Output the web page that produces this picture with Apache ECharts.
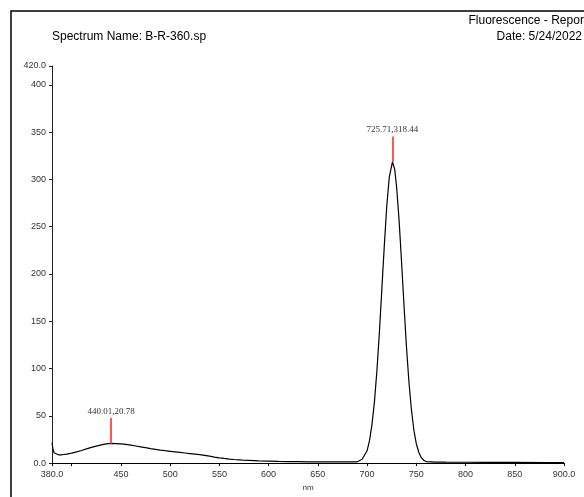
<!DOCTYPE html>
<html>
<head>
    <meta charset="utf-8">
    <script src="https://cdn.jsdelivr.net/npm/echarts@6/dist/echarts.min.js"></script>
</head>
<body style="margin:0">
    <div id="main" style="width: 584px;height:497px;"></div>
    <script type="text/javascript">
        // spectrum (nm, intensity)
        var wavelength = [380, 381, 382, 384, 387, 390, 395, 400, 405, 410, 415, 420, 425, 430, 435, 440.01, 445, 450, 455, 460,
            465, 470, 475, 480, 485, 490, 495, 500, 505, 510, 515, 520, 525, 530, 535, 540, 545, 550, 555, 560,
            565, 570, 575, 580, 590, 600, 610, 620, 630, 640, 650, 660, 670, 680, 690, 695, 700, 702.5, 705, 707.5,
            710, 712.5, 715, 717.5, 720, 722.5, 725.71, 728, 730, 732.5, 735, 737.5, 740, 742.5, 745, 747.5, 750, 752.5, 755, 757.5,
            760, 770, 780, 800, 820, 850, 880, 900];
        var intensity = [21.5, 15, 11, 9.2, 8.6, 8.8, 9.5, 10.5, 11.8, 13.3, 15, 16.6, 18, 19.3, 20.3, 20.78, 20.7, 20.4, 19.8, 19,
            18.1, 17.2, 16.3, 15.4, 14.6, 13.8, 13.1, 12.5, 11.9, 11.3, 10.7, 10.1, 9.5, 8.9, 8.1, 7.3, 6.4, 5.6, 4.9, 4.3,
            3.8, 3.4, 3.0, 2.8, 2.4, 2.1, 1.8, 1.6, 1.5, 1.4, 1.3, 1.2, 1.2, 1.2, 1.4, 4, 13, 24, 41, 65,
            98, 138, 184, 230, 272, 302, 318.44, 311, 292, 257, 213, 167, 123, 86, 57, 35, 20.5, 11.5, 6, 3,
            1.6, 1.1, 1, 0.9, 0.8, 0.7, 0.6, 0.6];

        var peakX = [440.01, 725.71];
        var peakY = [20.78, 318.44];
        var markerLen = 27;

        var xLabelValues = [380, 450, 500, 550, 600, 650, 700, 750, 800, 850, 900];
        var xTickValues = [380, 400, 450, 500, 550, 600, 650, 700, 750, 800, 850, 900];
        var yTickValues = [0, 50, 100, 150, 200, 250, 300, 350, 400, 420];

        var points = [];
        for (var i = 0; i < wavelength.length; i++) {
            points.push([wavelength[i], intensity[i]]);
        }
        var markers = [];
        for (var j = 0; j < peakX.length; j++) {
            markers.push([
                { coord: [peakX[j], peakY[j]], name: peakX[j].toFixed(2) + ',' + peakY[j].toFixed(2) },
                { coord: [peakX[j], peakY[j] + markerLen] }
            ]);
        }

        var myChart = echarts.init(document.getElementById('main'));
        var option = {
            animation: false,
            backgroundColor: '#fff',
            textStyle: { fontFamily: 'Liberation Sans' },
            grid: { left: 52, right: 20, top: 66, bottom: 31 },
            graphic: [
                { type: 'rect', shape: { x: 11, y: 11, width: 700, height: 700 },
                  style: { fill: null, stroke: '#000', lineWidth: 1.5 } },
                { type: 'text', x: 52, y: 37, style: { text: 'Spectrum Name: B-R-360.sp', font: '12px "Liberation Sans"', fill: '#000', verticalAlign: 'middle' } },
                { type: 'text', x: 468.5, y: 21, style: { text: 'Fluorescence - Report', font: '12px "Liberation Sans"', fill: '#000', verticalAlign: 'middle' } },
                { type: 'text', x: 582, y: 37, style: { text: 'Date: 5/24/2022', font: '12px "Liberation Sans"', fill: '#000', align: 'right', verticalAlign: 'middle' } }
            ],
            xAxis: {
                type: 'value',
                min: 380,
                max: 900,
                name: 'nm',
                nameLocation: 'middle',
                nameGap: 20,
                nameTextStyle: { fontSize: 8, color: '#333' },
                axisLine: { lineStyle: { color: '#000', width: 1 } },
                axisTick: { customValues: xTickValues, length: 3, lineStyle: { color: '#000' } },
                axisLabel: {
                    customValues: xLabelValues,
                    fontSize: 9,
                    color: '#333',
                    margin: 7,
                    formatter: function (v) { return (v === 380 || v === 900) ? v.toFixed(1) : String(v); }
                },
                splitLine: { show: false }
            },
            yAxis: {
                type: 'value',
                min: 0,
                max: 420,
                axisLine: { show: true, lineStyle: { color: '#222', width: 1 } },
                axisTick: { show: true, customValues: yTickValues, length: 3, lineStyle: { color: '#222' } },
                axisLabel: {
                    customValues: yTickValues,
                    fontSize: 9,
                    color: '#333',
                    margin: 6,
                    formatter: function (v) { return (v === 0 || v === 420) ? v.toFixed(1) : String(v); }
                },
                splitLine: { show: false }
            },
            series: [{
                type: 'line',
                data: points,
                showSymbol: false,
                lineStyle: { color: '#000', width: 1.2 },
                markLine: {
                    silent: true,
                    symbol: ['none', 'none'],
                    lineStyle: { color: '#f55', width: 2, type: 'solid' },
                    label: {
                        show: true,
                        position: 'end',
                        distance: 2,
                        fontFamily: 'Liberation Serif',
                        fontSize: 9,
                        color: '#333',
                        formatter: function (p) { return p.name; }
                    },
                    data: markers
                }
            }]
        };
        myChart.setOption(option);
    </script>
</body>
</html>
